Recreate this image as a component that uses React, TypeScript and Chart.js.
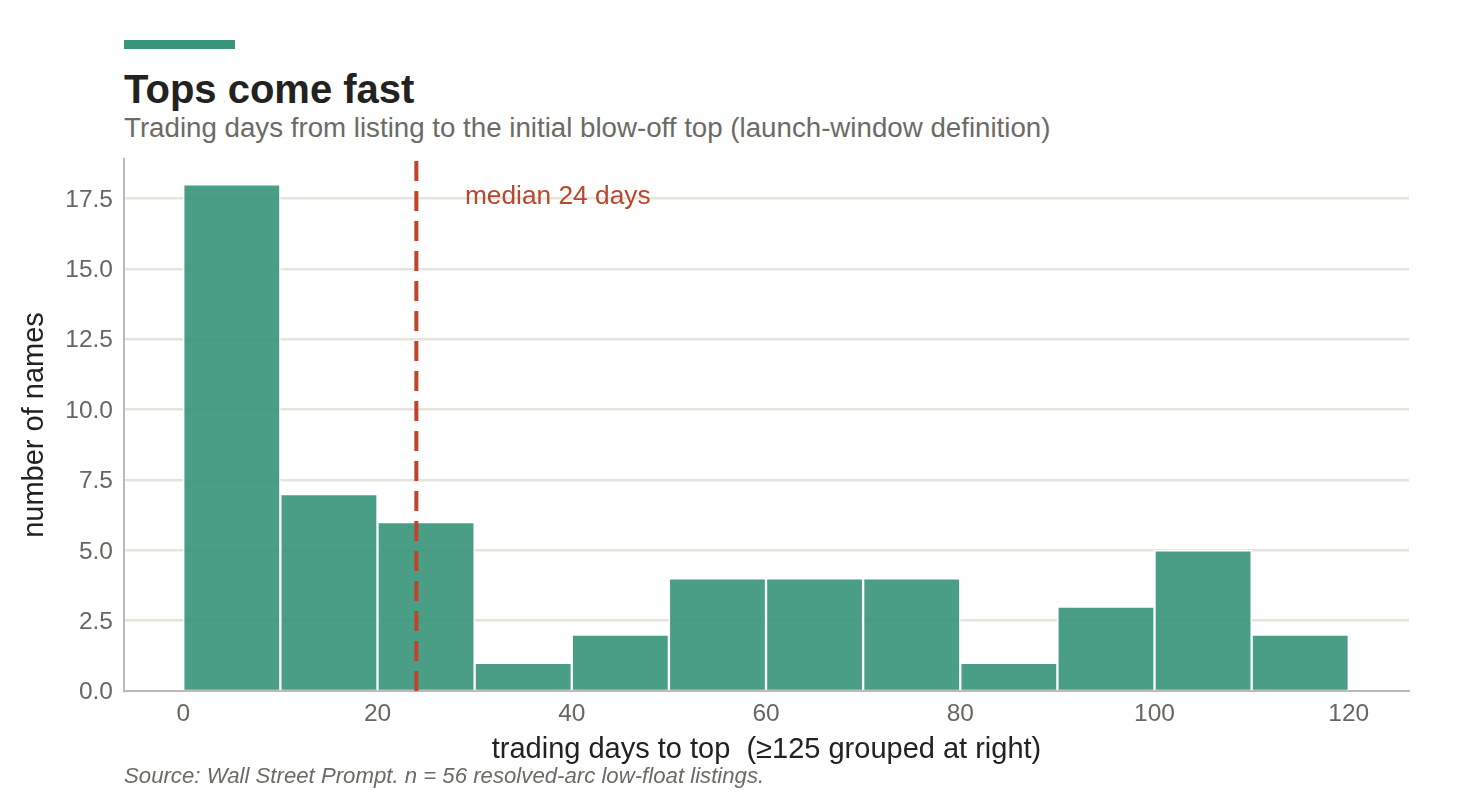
import { useEffect, useRef } from "react";
import { Chart, registerables } from "chart.js";

Chart.register(...registerables);

// histogram bins (left edge of each 10-day bin) and number of names in each
const binStarts = [0, 10, 20, 30, 40, 50, 60, 70, 80, 90, 100, 110];
const binCounts = [18, 7, 6, 1, 2, 4, 4, 4, 1, 3, 5, 2];
const binWidth = 10;
const medianDays = 24;
const medianLabel = "median 24 days";

const FONT = "'Liberation Sans', Arial, Helvetica, sans-serif";
const BAR = "rgba(54, 148, 121, 0.9)";
const ACCENT = "#3a967a";
const RED = "#c0432b";
const GRID = "#e6e4dc";
const AXIS = "#bdbab4";
const TICK = "#666662";
const INK = "#222220";

const medianPlugin = {
  id: "medianLine",
  afterDatasetsDraw(chart: any) {
    const { ctx, chartArea, scales } = chart;
    const x = scales.x.getPixelForValue(medianDays);
    ctx.save();
    ctx.strokeStyle = RED;
    ctx.lineWidth = 4;
    ctx.setLineDash([20, 10]);
    ctx.beginPath();
    // drawn bottom-up so the first dash sits on the axis
    ctx.moveTo(x, chartArea.bottom);
    ctx.lineTo(x, chartArea.top);
    ctx.stroke();
    ctx.setLineDash([]);
    ctx.fillStyle = "#b9472d";
    ctx.font = `26.3px ${FONT}`;
    ctx.textAlign = "left";
    ctx.textBaseline = "middle";
    ctx.fillText(medianLabel, scales.x.getPixelForValue(medianDays + 5), scales.y.getPixelForValue(17.55));
    ctx.restore();
  },
};

export default function App() {
  const canvasRef = useRef<HTMLCanvasElement>(null);

  useEffect(() => {
    if (!canvasRef.current) return;
    const points = binStarts.map((s, i) => ({ x: s + binWidth / 2, y: binCounts[i] }));

    const chart = new Chart(canvasRef.current, {
      type: "bar",
      data: {
        datasets: [
          {
            data: points,
            backgroundColor: BAR,
            borderColor: "#ffffff",
            borderWidth: 1.5,
            barPercentage: 1,
            categoryPercentage: 1,
          },
        ],
      },
      options: {
        responsive: false,
        animation: false,
        layout: { padding: { top: 159, right: 51, left: 0, bottom: 0 } },
        plugins: {
          legend: { display: false },
          tooltip: { enabled: false },
        },
        scales: {
          x: {
            type: "linear",
            offset: false,
            min: -6.1,
            max: 126.2,
            afterFit: (s: any) => {
              s.height = 109;
            },
            grid: { display: false, drawTicks: false },
            border: { display: true, color: AXIS, width: 2 },
            ticks: {
              stepSize: 20,
              includeBounds: false,
              padding: 8.5,
              color: TICK,
              font: { family: FONT, size: 24.5 },
            },
            title: {
              display: true,
              text: "trading days to top  (≥125 grouped at right)",
              color: INK,
              font: { family: FONT, size: 29 },
              padding: { top: 0, bottom: 32.6 },
            },
          },
          y: {
            min: 0,
            max: 18.9,
            afterFit: (s: any) => {
              s.width = 124;
            },
            grid: {
              color: (c: any) => (c.tick && c.tick.value === 0 ? "rgba(0,0,0,0)" : GRID),
              lineWidth: 2.5,
              drawTicks: false,
            },
            border: { display: true, color: AXIS, width: 2 },
            ticks: {
              stepSize: 2.5,
              includeBounds: false,
              padding: 11,
              labelOffset: 1.5,
              color: TICK,
              font: { family: FONT, size: 24.5 },
              callback: (v: any) => Number(v).toFixed(1),
            },
            title: {
              display: true,
              text: "number of names",
              color: INK,
              font: { family: FONT, size: 29 },
              padding: { top: 17.6, bottom: 0 },
            },
          },
        },
      },
      plugins: [medianPlugin],
    });

    return () => {
      chart.destroy();
    };
  }, []);

  return (
    <div style={{ position: "absolute", left: 0, top: 0, width: 1460, height: 800, background: "#fff", fontFamily: FONT }}>
      <div style={{ position: "absolute", left: 124, top: 40, width: 111, height: 9, background: ACCENT }} />
      <div style={{ position: "absolute", left: 124, top: 68.5, fontSize: 40, lineHeight: 1, fontWeight: 700, color: INK, whiteSpace: "nowrap" }}>
        Tops come fast
      </div>
      <div style={{ position: "absolute", left: 124, top: 114, fontSize: 27.7, lineHeight: 1, color: "#6b6b66", whiteSpace: "nowrap" }}>
        Trading days from listing to the initial blow-off top (launch-window definition)
      </div>
      <canvas ref={canvasRef} width={1460} height={800} style={{ position: "absolute", left: 0, top: 0, width: 1460, height: 800 }} />
      <div style={{ position: "absolute", left: 124, top: 765, fontSize: 22.2, lineHeight: 1, fontStyle: "italic", color: "#6b6b66", whiteSpace: "nowrap" }}>
        Source: Wall Street Prompt. n = 56 resolved-arc low-float listings.
      </div>
    </div>
  );
}
